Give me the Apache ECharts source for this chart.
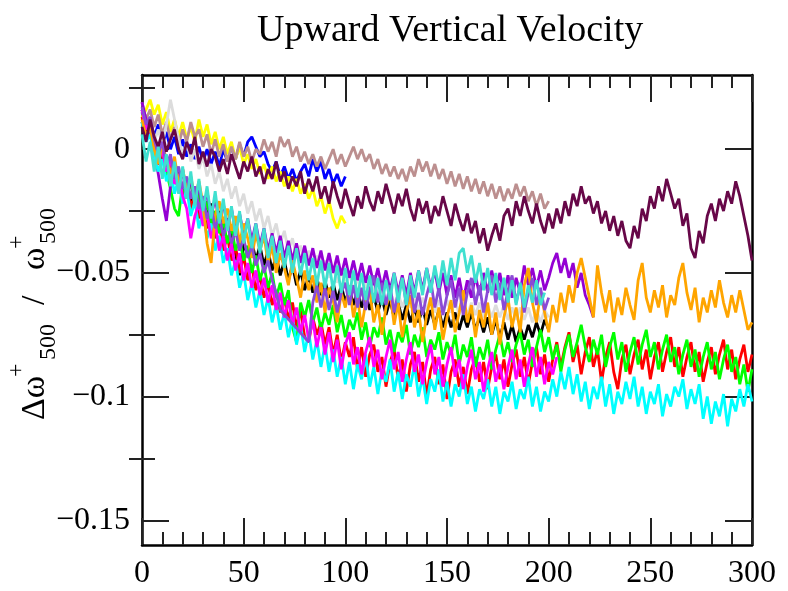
<!DOCTYPE html>
<html>
<head>
<meta charset="utf-8">
<script src="https://cdn.jsdelivr.net/npm/echarts@6.0.0/dist/echarts.min.js"></script>
<style>
    html, body { margin: 0; padding: 0; background: #fff; }
    #chart1 { width: 788px; height: 591px; }
</style>
</head>
<body>
<div id="chart1"></div>
<script>
// sample spacing along x (time steps), values below are in units of 1e-3
var STEP = 2;
var yTickLabels = [0, -0.05, -0.1, -0.15];
var yMinorTicks = [0.025, -0.025, -0.075, -0.125];

var blackVals = [11, 4, 7, -1, -6, -2, -10, -6, -14, -9, -17, -13, -21, -16, -24, -19, -27, -22, -30, -25,
    -33, -28, -36, -42, -51, -38, -43, -37, -45, -39, -47, -41, -49, -43, -51, -45, -53, -47, -55, -49,
    -57, -51, -58, -52, -59, -53, -60, -54, -61, -55, -62, -56, -63, -57, -64, -58, -65, -59, -66, -60,
    -67, -61, -68, -62, -69, -63, -70, -64, -70, -64, -71, -65, -71, -65, -72, -66, -72, -66, -73, -67,
    -72, -66, -73, -68, -74, -68, -75, -69, -76, -70, -77, -71, -78, -72, -77, -71, -76, -70, -75, -69, -73];
var redVals = [13, 6, 9, 0, -6, -1, -9, -4, -14, -10, -19, -13, -24, -18, -28, -22, -32, -27, -36, -30,
    -41, -35, -45, -39, -50, -43, -53, -47, -57, -51, -60, -54, -63, -57, -66, -60, -69, -62, -72, -65,
    -76, -78, -68, -75, -70, -79, -72, -83, -75, -86, -78, -84, -76, -89, -80, -92, -83, -79, -90, -84,
    -96, -86, -81, -93, -85, -98, -87, -82, -94, -86, -100, -89, -84, -95, -87, -101, -90, -85, -96, -88,
    -99, -89, -84, -94, -86, -97, -88, -83, -93, -85, -96, -87, -81, -92, -84, -95, -86, -80, -91, -83,
    -94, -85, -78, -88, -80, -74, -86, -79, -91, -82, -76, -88, -81, -94, -84, -78, -90, -97, -85, -79,
    -91, -83, -77, -89, -81, -93, -84, -78, -90, -82, -76, -88, -80, -92, -84, -78, -90, -82, -94, -86,
    -80, -91, -83, -77, -89, -81, -93, -85, -79, -90, -83];
var greenVals = [15, 8, 11, 2, -4, 1, -9, -16, -24, -27, -14, -20, -13, -22, -18, -27, -21, -30, -25, -34,
    -29, -38, -31, -41, -36, -45, -39, -50, -43, -53, -47, -56, -50, -60, -54, -63, -57, -72, -78, -62,
    -68, -61, -70, -64, -73, -66, -71, -63, -74, -67, -76, -69, -73, -66, -77, -70, -80, -72, -76, -68,
    -79, -73, -82, -74, -78, -71, -83, -75, -80, -72, -84, -77, -81, -74, -85, -78, -83, -75, -87, -79,
    -84, -76, -88, -80, -85, -77, -89, -81, -75, -84, -78, -86, -79, -74, -83, -77, -88, -80, -73, -82,
    -76, -85, -79, -90, -81, -75, -84, -78, -71, -80, -86, -77, -83, -75, -88, -80, -74, -85, -78, -90,
    -82, -76, -87, -79, -73, -84, -78, -89, -81, -75, -86, -80, -91, -83, -77, -88, -81, -92, -84, -78,
    -89, -82, -93, -85, -79, -90, -84, -95, -87, -98, -89];
var blueVals = [16, 9, 13, 5, 10, 2, 7, 0, 5, -2, 4, -3, 2, -4, 1, -5, 0, -6, -1, -7,
    0, -5, 1, -4, 2, -3, 3, 5, 1, -3, -1, -6, -9, -5, -11, -7, -12, -8, -13, -9,
    -6, -11, -4, -9, -5, -12, -8, -14, -10, -15, -11];
var yellowVals = [13, 16, 20, 14, 18, 10, 15, 7, 12, 5, 11, 4, 9, 3, 12, 5, 10, 2, 7, 0,
    5, -2, 3, -4, 1, -6, -2, -8, -4, -10, -6, -12, -7, -13, -9, -15, -11, -17, -12, -18,
    -14, -20, -16, -23, -19, -26, -21, -28, -32, -27, -30];
var brownVals = [19, 12, 16, 9, 14, 6, 11, 4, 9, 2, 8, 3, 11, 5, 8, 1, 6, -2, 4, -3,
    2, -5, 1, -4, 3, -3, 1, -5, 0, -2, 4, -1, 3, -3, 5, 1, 4, -3, 1, -5,
    -1, -6, -2, -7, -3, -8, -4, 0, -6, -2, -7, -3, 1, -4, 0, -5, -2, -8, -4, -10,
    -6, -11, -7, -12, -8, -13, -7, -11, -4, -9, -5, -11, -6, -12, -8, -14, -9, -15, -10, -16,
    -11, -17, -12, -18, -13, -19, -14, -20, -15, -21, -16, -20, -14, -19, -15, -21, -17, -23, -18, -24, -21];
var greyVals = [11, 5, 9, 3, 8, 2, 10, 20, 12, 4, -2, 3, -5, 0, -8, -3, -11, -6, -14, -9,
    -17, -12, -20, -15, -23, -18, -26, -21, -29, -24, -32, -27, -35, -30, -38, -33, -41, -36, -44, -39,
    -46, -41, -48, -43, -50, -45, -52, -47, -54, -49, -55, -50, -57, -52, -59, -54, -60, -55, -61, -56,
    -62, -57, -63, -58, -64, -59, -64, -59, -65, -60, -65, -60, -66, -61, -66, -61, -66, -61, -67, -62,
    -67, -62, -67, -62, -68, -63, -68, -63, -68, -63, -69, -64, -69, -64, -69, -64, -70, -65, -70, -65, -68];
var violetVals = [19, 12, 6, 0, -10, -20, -29, -15, -9, -17, -8, -19, -12, -22, -15, -25, -17, -27, -20, -29,
    -22, -31, -24, -33, -26, -35, -28, -37, -30, -39, -32, -41, -34, -42, -35, -44, -37, -45, -38, -46,
    -39, -47, -40, -48, -41, -49, -42, -50, -43, -51, -44, -52, -45, -53, -46, -54, -47, -55, -48, -56,
    -49, -57, -50, -58, -51, -59, -50, -58, -49, -57, -48, -56, -49, -58, -50, -59, -51, -60, -52, -61,
    -53, -60, -51, -59, -50, -58, -49, -57, -50, -59, -51, -60, -52, -58, -47, -55, -48, -56, -49, -57,
    -52, -46, -42, -50, -44, -52, -46, -56, -50, -59, -63, -68];
var cyanVals = [11, 3, 6, -3, -9, -4, -13, -8, -18, -12, -22, -16, -27, -21, -32, -25, -36, -30, -41, -35,
    -46, -40, -51, -45, -56, -50, -61, -54, -64, -57, -67, -60, -70, -63, -73, -66, -76, -68, -79, -71,
    -82, -74, -85, -77, -88, -79, -90, -81, -92, -84, -95, -86, -97, -87, -93, -83, -96, -88, -99, -89,
    -94, -85, -98, -90, -101, -91, -96, -87, -100, -92, -103, -93, -98, -89, -102, -94, -104, -95, -100, -91,
    -103, -96, -106, -97, -101, -93, -104, -96, -107, -98, -102, -94, -105, -97, -101, -92, -104, -96, -106, -98,
    -102, -93, -100, -90, -97, -88, -99, -91, -102, -94, -105, -96, -101, -92, -104, -95, -107, -98, -103, -94,
    -101, -92, -104, -96, -107, -98, -103, -95, -108, -99, -104, -96, -100, -93, -105, -97, -103, -95, -109, -100,
    -111, -102, -108, -99, -112, -101, -106, -97, -104, -95, -102];
var magentaVals = [16, 8, 11, 2, -5, 0, -9, -4, -14, -10, -19, -24, -36, -27, -22, -31, -26, -36, -30, -41,
    -35, -45, -38, -49, -42, -53, -46, -56, -49, -59, -52, -62, -55, -65, -58, -68, -61, -71, -64, -74,
    -67, -77, -69, -80, -72, -83, -74, -86, -77, -89, -79, -74, -87, -80, -91, -82, -76, -88, -81, -93,
    -84, -77, -89, -82, -94, -85, -78, -90, -83, -95, -86, -79, -91, -84, -96, -87, -80, -92, -85, -97,
    -88, -81, -93, -86, -98, -89, -82, -94, -87, -97, -88, -81, -93, -85, -96, -87, -80, -92, -84, -95,
    -86, -91, -84];
var orangeVals = [12, 5, 9, 0, -6, 2, -4, -10, -3, -14, -8, -16, -11, -20, -13, -22, -38, -46, -27, -21,
    -30, -24, -33, -27, -38, -30, -36, -44, -34, -41, -35, -46, -39, -50, -42, -48, -55, -45, -52, -60,
    -49, -57, -51, -62, -54, -66, -56, -61, -70, -58, -64, -55, -68, -60, -72, -62, -57, -70, -63, -75,
    -64, -58, -71, -62, -76, -66, -59, -72, -65, -78, -67, -60, -73, -64, -77, -68, -61, -74, -66, -57,
    -70, -63, -76, -65, -72, -62, -75, -66, -79, -68, -60, -72, -64, -74, -55, -48, -62, -70, -58, -66,
    -74, -63, -70, -58, -66, -55, -62, -50, -44, -52, -60, -68, -47, -58, -66, -57, -70, -60, -67, -56,
    -63, -69, -53, -46, -60, -66, -57, -64, -55, -68, -59, -63, -52, -46, -58, -65, -56, -70, -60, -66,
    -57, -64, -53, -62, -68, -59, -66, -57, -65, -73, -70];
var indigoVals = [17, 10, 13, 4, -2, 3, -7, -2, -12, -7, -16, -11, -20, -15, -24, -19, -28, -23, -32, -27,
    -35, -30, -38, -33, -41, -36, -44, -39, -47, -42, -50, -45, -53, -58, -65, null, null, null, null, null,
    null, -78, -62, -55, -64, -56, -65, -57, -66, -58, -54, -63, -55, -64, -56, -65, -57, -51, -62, -54,
    -63, -55, -66, -58, -52, -63, -55, -66, -58, -67, -59, -53, -64, -56, -67, -59, -53, -64, -56, -67,
    -58, -52, -63, -55, -66, -57, -51, -62, -54, -65, -57, -51, -62, -55, -66, -58, -52, -63, -56, -65, -60];
var maroonVals = [9, 3, 12, 5, 1, 7, -1, 4, 8, 0, -4, 3, -2, 5, -6, -1, -7, 0, -3, -9,
    -4, -10, -2, -7, -12, -5, -9, -3, -11, -7, -14, -8, -12, -5, -13, -9, -16, -11, -15, -9,
    -18, -12, -17, -11, -20, -15, -22, -13, -19, -24, -16, -22, -27, -19, -24, -15, -21, -25, -17, -22,
    -14, -20, -26, -18, -23, -16, -24, -29, -20, -26, -21, -30, -23, -27, -19, -25, -31, -22, -28, -33,
    -26, -34, -29, -38, -32, -41, -35, -30, -37, -27, -24, -31, -21, -27, -19, -25, -30, -22, -29, -34,
    -26, -32, -24, -30, -21, -27, -18, -23, -15, -22, -19, -26, -21, -30, -25, -33, -27, -35, -29, -37,
    -40, -31, -36, -24, -29, -19, -24, -15, -21, -12, -18, -24, -20, -31, -26, -40, -44, -33, -38, -27,
    -22, -29, -20, -25, -17, -22, -13, -19, -27, -35, -45];
var turquoiseVals = [6, -5, 3, -9, 1, -12, -2, -15, -5, -18, -7, -20, -9, -23, -12, -25, -15, -28, -17, -30,
    -20, -33, -23, -35, -25, -38, -28, -40, -30, -42, -32, -44, -35, -46, -37, -48, -39, -50, -40, -51,
    -42, -53, -44, -55, -45, -56, -46, -57, -47, -58, -48, -59, -49, -60, -50, -61, -51, -62, -52, -63,
    -53, -61, -50, -62, -52, -63, -51, -60, -49, -59, -48, -58, -47, -56, -45, -55, -44, -53, -42, -40,
    -50, -43, -54, -46, -57, -48, -59, -50, -61, -52, -62, -53, -63, -54, -64, -55, -62, -53, -63, -58];

// grace-like palette, drawn in this order
var runs = [
    { name: "black", color: "#000000", vals: blackVals },
    { name: "red", color: "#ff0000", vals: redVals },
    { name: "green", color: "#00ff00", vals: greenVals },
    { name: "blue", color: "#0000ff", vals: blueVals },
    { name: "yellow", color: "#ffff00", vals: yellowVals },
    { name: "brown", color: "#bc8f8f", vals: brownVals },
    { name: "grey", color: "#dcdcdc", vals: greyVals },
    { name: "violet", color: "#9400d3", vals: violetVals },
    { name: "cyan", color: "#00ffff", vals: cyanVals },
    { name: "magenta", color: "#ff00ff", vals: magentaVals },
    { name: "orange", color: "#ffa500", vals: orangeVals },
    { name: "indigo", color: "#8a4bd6", vals: indigoVals },
    { name: "maroon", color: "#670748", vals: maroonVals },
    { name: "turquoise", color: "#40e0d0", vals: turquoiseVals }
];

var serif = "'Liberation Serif', 'DejaVu Serif', serif";

function init() {
    var mychart = echarts.init(document.getElementById("chart1"));
    loadchart1(mychart);
}

function toSeries(run) {
    var data = run.vals.map(function (v, i) {
        return [i * STEP, v === null ? "-" : v / 1000];
    });
    return {
        name: run.name,
        type: "line",
        data: data,
        showSymbol: false,
        connectNulls: true,
        silent: true,
        lineStyle: { color: run.color, width: 2.8 },
        itemStyle: { color: run.color }
    };
}

function yLabel(value) {
    if (value === 0) return "0";
    return value < 0 ? "\u2212" + String(-value) : String(value);
}

function loadchart1(chart) {
    var tickStyle = { color: "#222", width: 2 };
    var frameLine = { show: true, onZero: false, lineStyle: { color: "#000", width: 2.5 } };
    var xBase = {
        type: "value",
        min: 0,
        max: 300,
        interval: 50,
        axisLine: frameLine,
        axisTick: { show: true, inside: true, length: 27, lineStyle: tickStyle },
        minorTick: { show: true, splitNumber: 5, length: 13, lineStyle: tickStyle },
        splitLine: { show: false }
    };
    var yBase = {
        type: "value",
        min: -0.16,
        max: 0.03,
        splitLine: { show: false }
    };
    var option = {
        animation: false,
        backgroundColor: "#fff",
        title: {
            text: "Upward Vertical Velocity",
            left: 252,
            top: 7,
            textStyle: { fontFamily: serif, fontWeight: "normal", fontSize: 38, color: "#000" }
        },
        grid: { left: 142, right: 36, top: 75, bottom: 46, containLabel: false, outerBoundsMode: "none" },
        xAxis: [
            Object.assign({}, xBase, {
                position: "bottom",
                axisLabel: { color: "#000", fontFamily: serif, fontSize: 32, margin: 13 }
            }),
            Object.assign({}, xBase, {
                position: "top",
                axisLabel: { show: false }
            })
        ],
        yAxis: [
            Object.assign({}, yBase, {
                position: "left",
                axisLine: frameLine,
                axisTick: { show: true, inside: true, length: 27, lineStyle: tickStyle, customValues: yTickLabels },
                axisLabel: { color: "#000", fontFamily: serif, fontSize: 32, margin: 12,
                    customValues: yTickLabels, formatter: yLabel }
            }),
            Object.assign({}, yBase, {
                position: "left",
                axisLine: { show: false },
                axisTick: { show: true, inside: true, length: 13, lineStyle: tickStyle, customValues: yMinorTicks },
                axisLabel: { show: false }
            }),
            Object.assign({}, yBase, {
                position: "right",
                axisLine: frameLine,
                axisTick: { show: true, inside: true, length: 27, lineStyle: tickStyle, customValues: yTickLabels },
                axisLabel: { show: false }
            }),
            Object.assign({}, yBase, {
                position: "right",
                axisLine: { show: false },
                axisTick: { show: true, inside: true, length: 13, lineStyle: tickStyle, customValues: yMinorTicks },
                axisLabel: { show: false }
            })
        ],
        graphic: [{
            type: "group",
            x: 35,
            y: 420,
            rotation: Math.PI / 2,
            silent: true,
            children: [
                { type: "text", x: 0, y: 0, style: { text: "\u0394\u03c9", font: "34px " + serif, fill: "#000", textVerticalAlign: "middle" } },
                { type: "text", x: 43, y: -18, style: { text: "+", font: "24px " + serif, fill: "#000", textVerticalAlign: "middle" } },
                { type: "text", x: 60, y: 14, style: { text: "500", font: "24px " + serif, fill: "#000", textVerticalAlign: "middle" } },
                { type: "text", x: 115, y: 0, style: { text: "/", font: "34px " + serif, fill: "#000", textVerticalAlign: "middle" } },
                { type: "text", x: 150, y: 0, style: { text: "\u03c9", font: "34px " + serif, fill: "#000", textVerticalAlign: "middle" } },
                { type: "text", x: 171, y: -18, style: { text: "+", font: "24px " + serif, fill: "#000", textVerticalAlign: "middle" } },
                { type: "text", x: 176, y: 14, style: { text: "500", font: "24px " + serif, fill: "#000", textVerticalAlign: "middle" } }
            ]
        }],
        series: runs.map(toSeries)
    };
    chart.setOption(option);
}

init();
</script>
</body>
</html>
